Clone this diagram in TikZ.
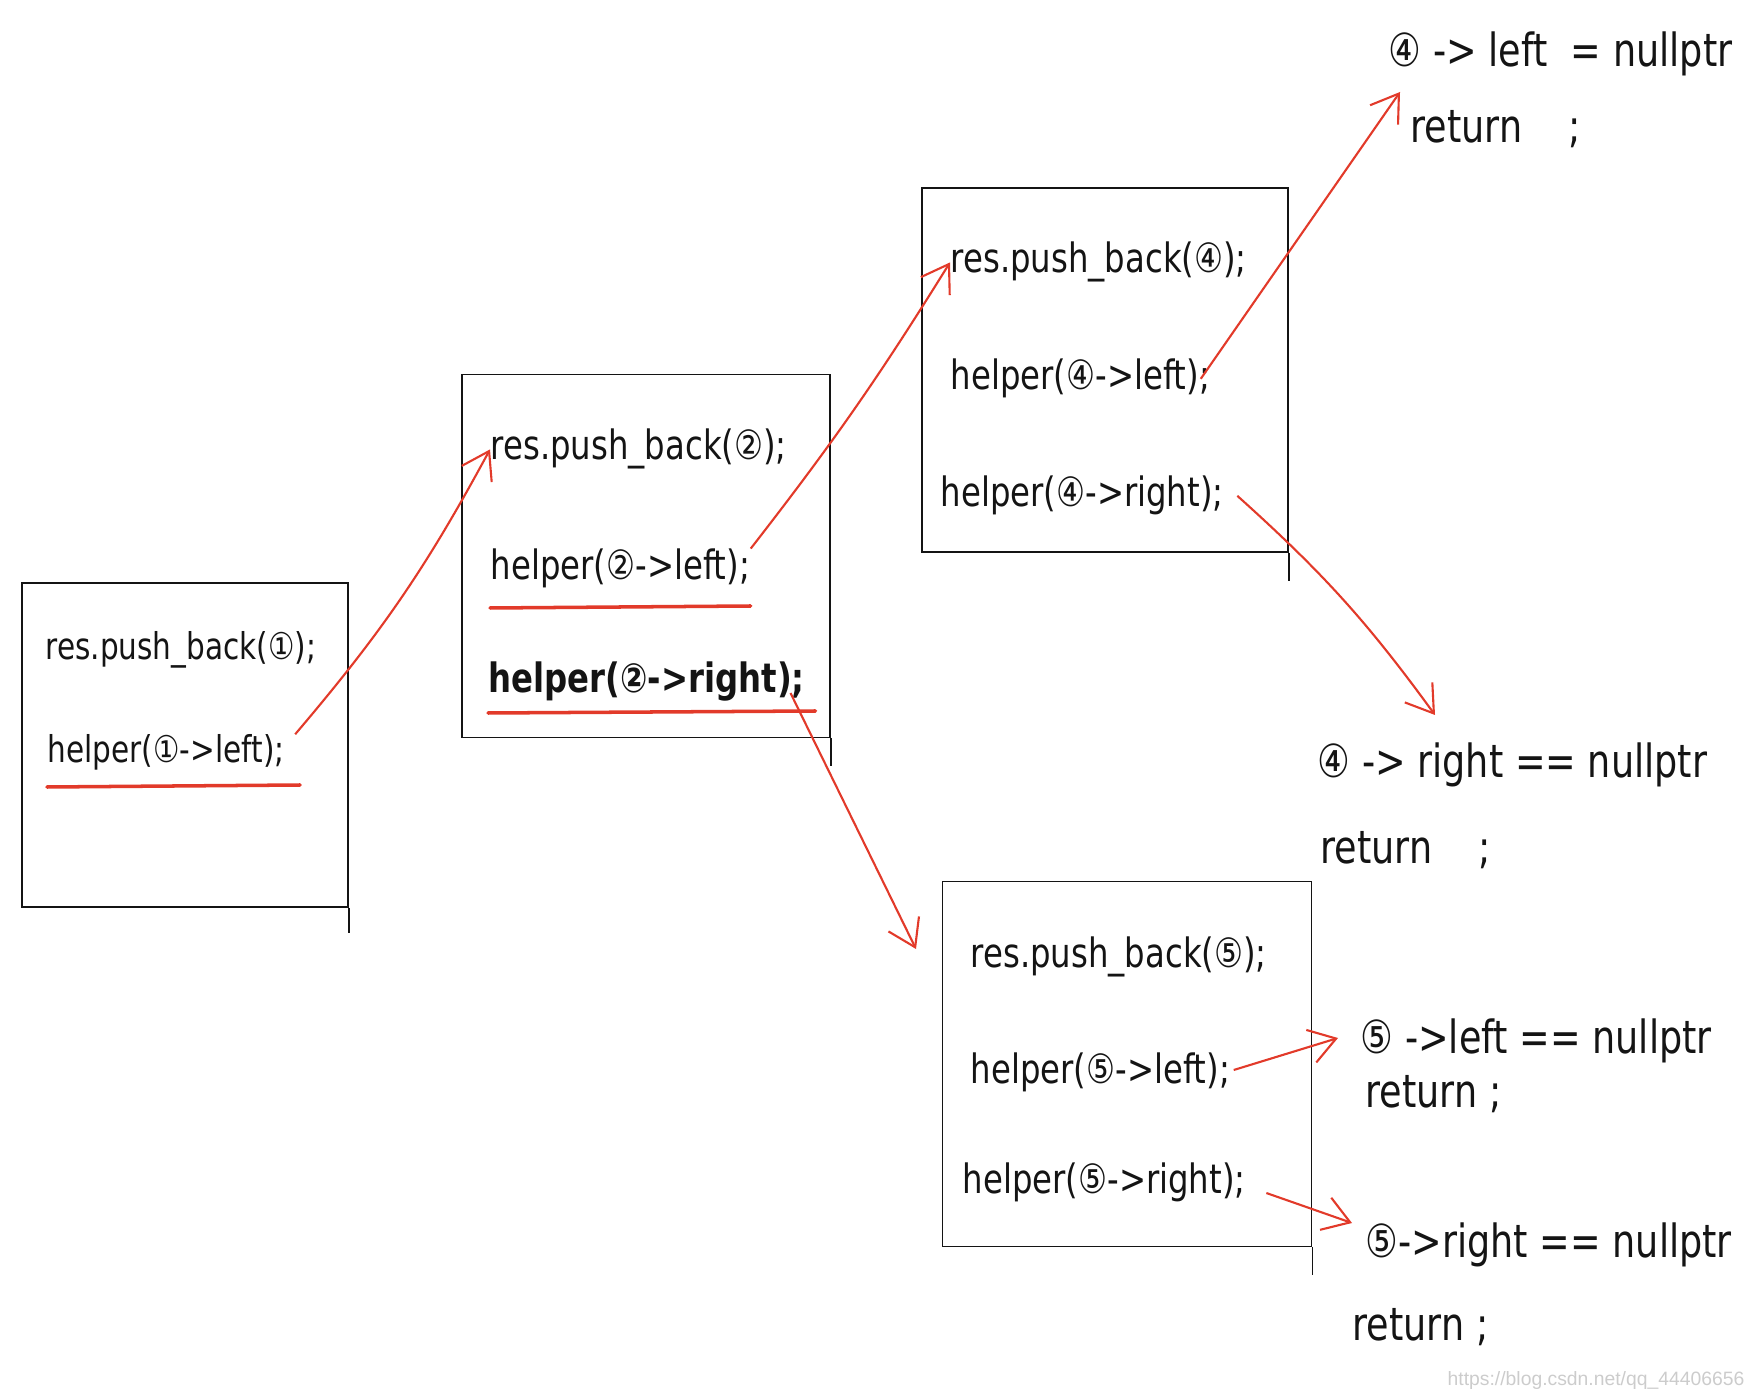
\documentclass[tikz,border=0pt]{standalone}
\usepackage{fontspec}
\usepackage{xcolor}
\usepackage{tikz}
\usetikzlibrary{arrows.meta}
\newfontfamily\handfont{DejaVu Sans}[FakeStretch=0.8]
\newfontfamily\markfont{Liberation Sans}
\definecolor{penred}{RGB}{226, 58, 42}
\definecolor{inkblack}{RGB}{20, 20, 20}
\tikzset{
 callbox/.style={
 rectangle,
 draw=inkblack,
 line width=0.45pt,
 inner sep=0pt
 },
 code/.style={
 anchor=base west,
 inner sep=0pt,
 text=inkblack,
 font=\handfont\fontsize{11.5}{14}\selectfont
 },
 note/.style={
 anchor=base west,
 inner sep=0pt,
 text=inkblack,
 font=\handfont\fontsize{13}{16}\selectfont
 },
 boxtail/.style={draw=inkblack, line width=0.45pt},
 redline/.style={draw=penred, line width=1pt, line cap=round},
 callarrow/.style={-{Straight Barb[length=2.6mm,width=3.4mm]}, draw=penred, line width=0.6pt}
}

\begin{document}
\begin{tikzpicture}[x=0.1mm, y=-0.1mm]
 \useasboundingbox (0,0) rectangle (1751,1394);

 % call frames
 \node[callbox, minimum width=32.6mm, minimum height=32.4mm] (b1) at (185,745) {};
 \node[callbox, minimum width=36.8mm, minimum height=36.3mm] (b2) at (646,556) {};
 \node[callbox, minimum width=36.6mm, minimum height=36.4mm] (b3) at (1105,370) {};
 \node[callbox, minimum width=36.9mm, minimum height=36.5mm] (b4) at (1127,1064) {};
 \draw[boxtail] (b1.south east) -- ++(0,25);
 \draw[boxtail] (b2.south east) -- ++(0,28);
 \draw[boxtail] (b3.south east) -- ++(0,28);
 \draw[boxtail] (b4.south east) -- ++(0,28);

 % node 1
 \node[code, font=\handfont\fontsize{10.5}{13}\selectfont] (p1) at (45,660) {res.push\_back(①);};
 \node[code, font=\handfont\fontsize{10.5}{13}\selectfont] (h1) at (47,763) {helper(①->left);};

 % node 2
 \node[code] (p2) at (490,460) {res.push\_back(②);};
 \node[code] (l2) at (490,580) {helper(②->left);};
 \node[code, font=\handfont\bfseries\fontsize{11.5}{14}\selectfont] (r2) at (488,693) {helper(②->right);};

 % node 4
 \node[code] (p3) at (950,273) {res.push\_back(④);};
 \node[code] (l3) at (950,390) {helper(④->left);};
 \node[code] (r3) at (940,507) {helper(④->right);};

 % node 5
 \node[code] (p4) at (970,967) {res.push\_back(⑤);};
 \node[code] (l4) at (970,1083) {helper(⑤->left);};
 \node[code] (r4) at (962,1193) {helper(⑤->right);};

 % base cases
 \node[note] (t1) at (1388,67) {④ -> left\ \ = nullptr};
 \node[note] (u1) at (1410,143) {return\quad ;};
 \node[note] (t2) at (1317,778) {④ -> right == nullptr};
 \node[note] (u2) at (1320,863) {return\quad ;};
 \node[note] (t3) at (1360,1053) {⑤ ->left == nullptr};
 \node[note] (u3) at (1365,1107) {return ;};
 \node[note] (t4) at (1365,1257) {⑤->right == nullptr};
 \node[note] (u4) at (1352,1340) {return ;};

 \node[anchor=base east, inner sep=0pt, text=gray!40, font=\markfont\fontsize{5.5}{6}\selectfont] (mark) at (1745,1385) {https://blog.csdn.net/qq\_44406656};

 % underlines
 \draw[redline] ([yshift=-2.4mm]h1.base west) -- ([xshift=1.5mm,yshift=-2.2mm]h1.base east);
 \draw[redline] ([yshift=-2.8mm]l2.base west) -- ([yshift=-2.6mm]l2.base east);
 \draw[redline] ([yshift=-2mm]r2.base west) -- ([xshift=1mm,yshift=-1.8mm]r2.base east);

 % calls
 \draw[callarrow] ([xshift=1mm]h1.north east) to[bend right=6] (p2.west);
 \draw[callarrow] (l2.north east) to[bend right=3] (p3.west);
 \draw[callarrow] ([xshift=-1mm]l3.east) -- ([xshift=1.2mm,yshift=-2.5mm]t1.base west);
 \draw[callarrow] ([xshift=1.3mm]r3.east) to[bend left=6] ([xshift=11.8mm,yshift=6.3mm]t2.base west);
 \draw[callarrow] ([xshift=-1.5mm]r2.base east) -- ([xshift=-5.4mm,yshift=1.8mm]p4.base west);
 \draw[callarrow] ([xshift=0.3mm,yshift=1.3mm]l4.base east) -- ([xshift=-2.2mm,yshift=1.5mm]t3.base west);
 \draw[callarrow] ([xshift=2mm]r4.base east) -- ([xshift=-1.3mm,yshift=3.4mm]t4.base west);
\end{tikzpicture}
\end{document}
